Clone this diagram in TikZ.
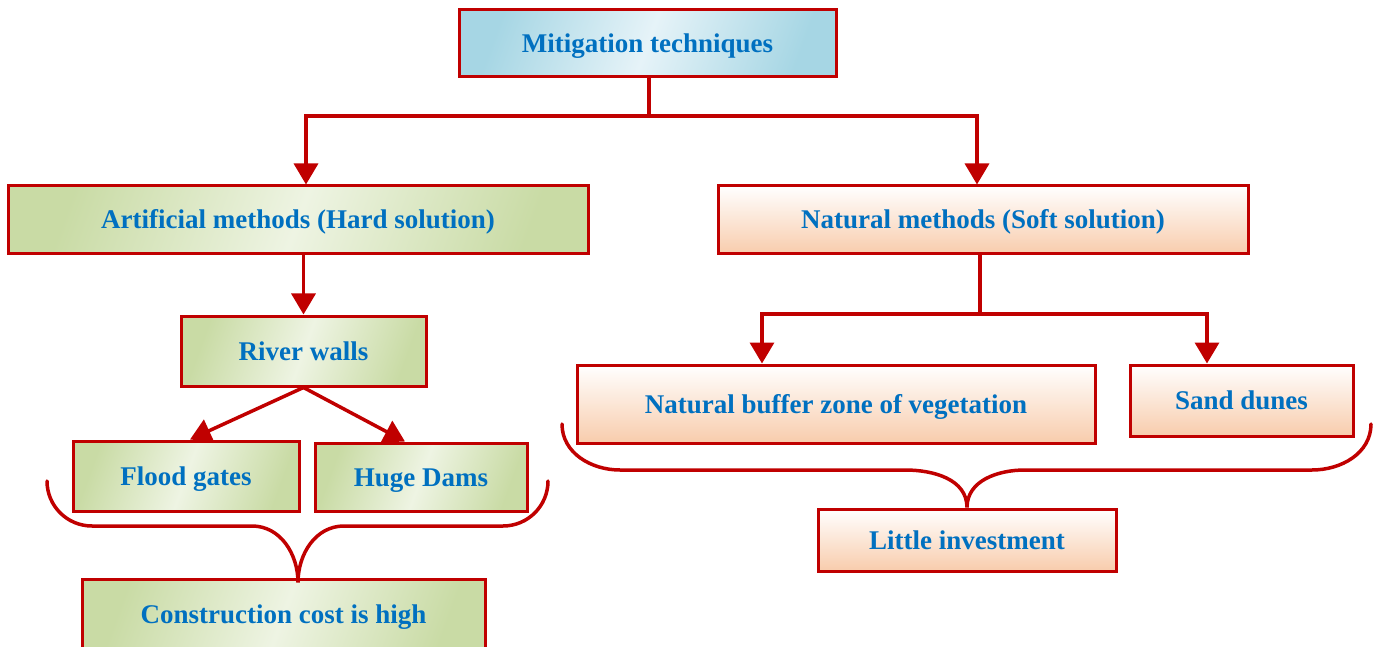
\documentclass[tikz,border=0pt]{standalone}
\usepackage{fontspec}
\setmainfont{Liberation Serif}
\usetikzlibrary{arrows.meta,positioning}
\definecolor{DarkRed}{HTML}{C00000}
\definecolor{TextBlue}{HTML}{0070C0}
\definecolor{SkyLt}{HTML}{E6F3F8}
\definecolor{SkyDk}{HTML}{A6D6E4}
\definecolor{LeafLt}{HTML}{EEF4E3}
\definecolor{LeafDk}{HTML}{C9DBA5}
\definecolor{PeachDk}{HTML}{F8CCAC}
\tikzset{
  box/.style={draw=DarkRed,line width=3pt,inner sep=0pt,align=center,text=TextBlue,
    text height=21pt,text depth=3pt,font=\fontsize{27}{32}\selectfont\bfseries},
  bluebox/.style={box,top color=SkyDk,bottom color=SkyDk,middle color=SkyLt,shading angle=70},
  greenbox/.style={box,top color=LeafDk,bottom color=LeafDk,middle color=LeafLt,shading angle=70},
  peachbox/.style={box,top color=white,bottom color=PeachDk},
  link/.style={DarkRed,line width=3.5pt},
  arr/.style={link,-{Triangle[width=24pt,length=21pt]}},
  brace/.style={DarkRed,line width=3.5pt,line cap=round}
}
\begin{document}
\begin{tikzpicture}[x=1pt,y=-1pt]
  \useasboundingbox (0,0) rectangle (1377,647);
  \node[bluebox,minimum width=377pt,minimum height=67pt] (top) at (647.5,43.5) {Mitigation techniques};
  \node[greenbox,minimum width=580pt,minimum height=68pt] (art) at (298,220) {Artificial methods (Hard solution)};
  \node[peachbox,minimum width=530pt,minimum height=68pt] (nat) at (983,220) {Natural methods (Soft solution)};
  \node[greenbox,minimum width=245pt,minimum height=70pt] (river) at (303.5,351) {River walls};
  \node[greenbox,minimum width=226pt,minimum height=70pt] (flood) at (186,476) {Flood gates};
  \node[greenbox,minimum width=212pt,minimum height=68pt] (dams) at (421,477) {Huge Dams};
  \node[greenbox,minimum width=403pt,minimum height=70pt] (cost) at (283.5,614) {Construction cost is high};
  \node[peachbox,minimum width=518pt,minimum height=78pt] (buffer) at (836,404) {Natural buffer zone of vegetation};
  \node[peachbox,minimum width=223pt,minimum height=71pt] (sand) at (1241.5,400.5) {Sand dunes};
  \node[peachbox,minimum width=298pt,minimum height=62pt] (little) at (967,540) {Little investment};

  \coordinate (fork1) at (649,116);
  \coordinate (fork2) at (980,314);
  \draw[link] (fork1 |- top.south) -- (fork1);
  \draw[arr] (fork1) -| ([xshift=8pt]art.north);
  \draw[arr] (fork1) -| ([xshift=-6pt]nat.north);
  \draw[arr] (river.north |- art.south) -- (river.north);
  \draw[arr] (river.south) -- ([xshift=4pt]flood.north);
  \draw[arr] (river.south) -- ([xshift=-16pt]dams.north);
  \draw[link] (fork2 |- nat.south) -- (fork2);
  \draw[arr] (fork2) -| ([xshift=-74pt]buffer.north);
  \draw[arr] (fork2) -| ([xshift=-34.5pt]sand.north);

  \draw[brace] (47,481) to[out=-90,in=180] (92,526) -- (252,526) to[out=0,in=90] ([xshift=14.5pt,yshift=-5pt]cost.north)
    to[out=90,in=180] (344,526) -- (503,526) to[out=0,in=-90] (548,481);
  \draw[brace] (562,424) to[out=-90,in=180] (620,470) -- (905,470) to[out=0,in=90] (little.north)
    to[out=90,in=180] (1025,470) -- (1312,470) to[out=0,in=-90] (1371,424);
\end{tikzpicture}
\end{document}
